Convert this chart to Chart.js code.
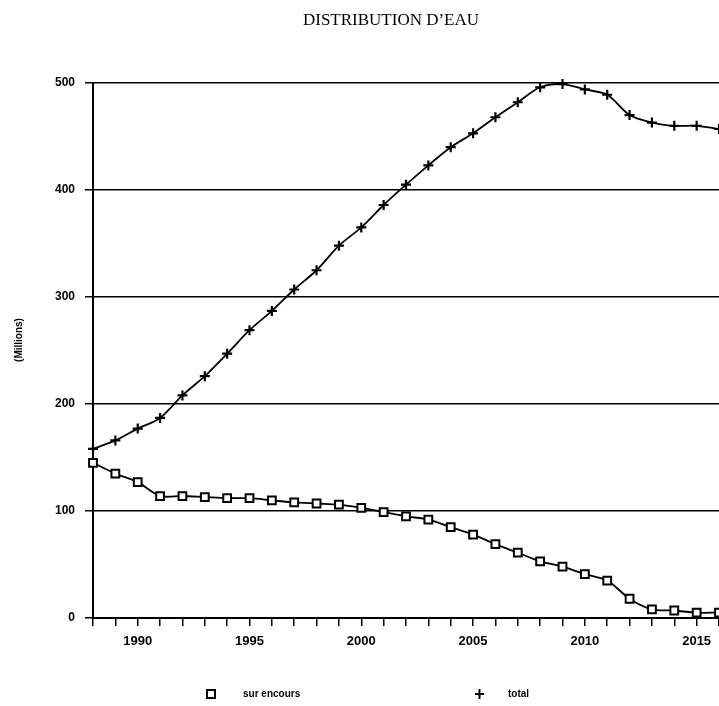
<!DOCTYPE html>
<html>
<head>
<meta charset="utf-8">
<script src="https://cdn.jsdelivr.net/npm/chart.js@4/dist/chart.umd.min.js"></script>
<style>
  html, body { margin: 0; padding: 0; background: #fff; }
  canvas { display: block; }
</style>
</head>
<body>
<canvas id="eauChart" width="719" height="706"></canvas>
<script>
// Data
const chartTitle = "DISTRIBUTION D\u2019EAU";
const yAxisLabel = '(Millions)';
const seriesNames = ['sur encours', 'total'];
const years = [1988, 1989, 1990, 1991, 1992, 1993, 1994, 1995, 1996, 1997,
    1998, 1999, 2000, 2001, 2002, 2003, 2004, 2005, 2006, 2007,
    2008, 2009, 2010, 2011, 2012, 2013, 2014, 2015, 2016];
const surEncours = [145, 135, 127, 114, 114, 113, 112, 112, 110, 108,
    107, 106, 103, 99, 95, 92, 85, 78, 69, 61,
    53, 48, 41, 35, 18, 8, 7, 5, 5];
const total = [158, 166, 177, 187, 208, 226, 247, 269, 287, 307,
    325, 348, 365, 386, 405, 423, 440, 453, 468, 482,
    496, 499, 494, 489, 470, 463, 460, 460, 457];
const yTicks = [0, 100, 200, 300, 400, 500];

function toPoints(values) {
    return years.map((yr, i) => ({ x: yr, y: values[i] }));
}

// Title, rotated axis label and the legend are painted by hand
const decorPlugin = {
    id: 'decor',
    afterDraw(chart) {
        const ctx = chart.ctx;
        ctx.save();
        ctx.fillStyle = '#000';
        ctx.strokeStyle = '#000';

        // title
        ctx.font = '17px "Liberation Serif"';
        ctx.textAlign = 'center';
        ctx.textBaseline = 'middle';
        ctx.fillText(chartTitle, 391, 21);

        // y axis label
        ctx.save();
        ctx.translate(19, 340);
        ctx.rotate(-Math.PI / 2);
        ctx.font = 'bold 10px "Liberation Sans"';
        ctx.fillText(yAxisLabel, 0, 0);
        ctx.restore();

        // legend
        const ly = 694;
        ctx.lineWidth = 2;
        ctx.fillStyle = '#fff';
        ctx.fillRect(207, ly - 4, 8, 8);
        ctx.strokeRect(207, ly - 4, 8, 8);
        ctx.beginPath();
        ctx.moveTo(475, ly); ctx.lineTo(484, ly);
        ctx.moveTo(479.5, ly - 5); ctx.lineTo(479.5, ly + 5);
        ctx.stroke();

        ctx.fillStyle = '#000';
        ctx.font = 'bold 10px "Liberation Sans"';
        ctx.textAlign = 'left';
        ctx.fillText(seriesNames[0], 243, ly);
        ctx.fillText(seriesNames[1], 508, ly);
        ctx.restore();
    }
};

document.addEventListener('DOMContentLoaded', function() {
    const ctx = document.getElementById('eauChart').getContext('2d');
    new Chart(ctx, {
        type: 'line',
        data: {
            datasets: [{
                label: seriesNames[0],
                data: toPoints(surEncours),
                clip: false,
                borderColor: '#000',
                borderWidth: 1.8,
                tension: 0.3,
                pointStyle: 'rect',
                pointRadius: 5.5,
                pointBorderWidth: 2,
                pointBackgroundColor: '#fff',
                pointBorderColor: '#000'
            }, {
                label: seriesNames[1],
                data: toPoints(total),
                clip: false,
                borderColor: '#000',
                borderWidth: 1.8,
                tension: 0.3,
                pointStyle: 'cross',
                pointRadius: 5,
                pointBorderWidth: 2.2,
                pointBorderColor: '#000'
            }]
        },
        options: {
            responsive: false,
            animation: false,
            layout: {
                autoPadding: false,
                padding: { top: 83, left: 0, right: 0, bottom: 0 }
            },
            scales: {
                x: {
                    type: 'linear',
                    min: years[0],
                    max: years[years.length - 1],
                    afterFit: function(scale) {
                        scale.height = 88;
                        scale.paddingLeft = 0;
                        scale.paddingRight = 0;
                    },
                    border: { color: '#000', width: 2 },
                    grid: {
                        drawOnChartArea: false,
                        color: '#000',
                        lineWidth: 1.5,
                        tickLength: 8
                    },
                    ticks: {
                        stepSize: 1,
                        autoSkip: false,
                        maxRotation: 0,
                        padding: 8,
                        color: '#000',
                        font: { family: 'Liberation Sans', weight: 'bold', size: 13 },
                        callback: function(value) {
                            return value % 5 === 0 ? String(value) : '';
                        }
                    }
                },
                y: {
                    min: yTicks[0],
                    max: yTicks[yTicks.length - 1],
                    afterFit: function(scale) {
                        scale.width = 93;
                        scale.paddingTop = 0;
                        scale.paddingBottom = 0;
                    },
                    afterBuildTicks: function(scale) {
                        scale.ticks = yTicks.map(v => ({ value: v }));
                    },
                    border: { color: '#000', width: 2 },
                    grid: {
                        color: '#000',
                        lineWidth: 1.5,
                        tickLength: 8
                    },
                    ticks: {
                        padding: 10,
                        color: '#000',
                        font: { family: 'Liberation Sans', weight: 'bold', size: 12 }
                    }
                }
            },
            plugins: {
                legend: { display: false },
                title: { display: false },
                tooltip: { enabled: false }
            }
        },
        plugins: [decorPlugin]
    });
});
</script>
</body>
</html>
